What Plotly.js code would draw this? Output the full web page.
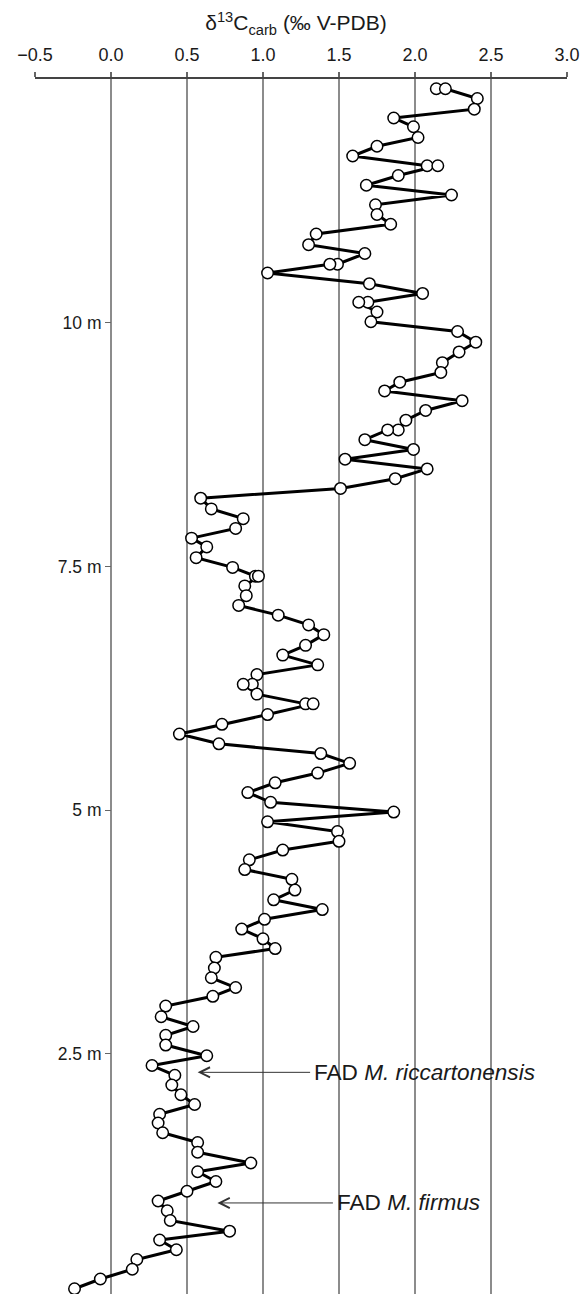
<!DOCTYPE html>
<html>
<head>
<meta charset="utf-8">
<script src="https://cdn.plot.ly/plotly-3.0.1.min.js"></script>
<style>
  html, body { margin: 0; padding: 0; background: #fff; }
  #chart { width: 582px; height: 1294px; }
</style>
</head>
<body>
<div id="chart"></div>
<script>
// Stratigraphic height (m) of each sample, top of section first
const depth_m = [
  12.40, 12.40, 12.30, 12.19, 12.10, 12.01, 11.90, 11.81, 11.71, 11.61,
  11.61, 11.51, 11.41, 11.31, 11.21, 11.11, 11.01, 10.91, 10.80, 10.71,
  10.60, 10.60, 10.51, 10.40, 10.30, 10.21, 10.21, 10.11, 10.01, 9.91,
  9.80, 9.70, 9.59, 9.49, 9.39, 9.30, 9.20, 9.10, 9.00, 8.90,
  8.90, 8.80, 8.70, 8.60, 8.50, 8.40, 8.30, 8.20, 8.09, 7.99,
  7.89, 7.79, 7.70, 7.59, 7.49, 7.40, 7.40, 7.30, 7.20, 7.10,
  7.00, 6.90, 6.80, 6.69, 6.59, 6.49, 6.39, 6.29, 6.29, 6.19,
  6.09, 6.09, 5.98, 5.88, 5.78, 5.68, 5.58, 5.48, 5.38, 5.28,
  5.18, 5.08, 4.98, 4.88, 4.78, 4.68, 4.59, 4.49, 4.39, 4.29,
  4.18, 4.08, 3.98, 3.88, 3.78, 3.68, 3.58, 3.49, 3.38, 3.28,
  3.18, 3.09, 2.99, 2.88, 2.78, 2.69, 2.59, 2.48, 2.38, 2.28,
  2.18, 2.08, 1.98, 1.88, 1.79, 1.69, 1.59, 1.49, 1.38, 1.29,
  1.19, 1.09, 0.99, 0.89, 0.79, 0.68, 0.59, 0.49, 0.39, 0.29,
  0.19, 0.09
];

// δ13C carb values (‰ V-PDB)
const d13C = [
  2.14, 2.20, 2.41, 2.39, 1.86, 1.99, 2.02, 1.75, 1.59, 2.08,
  2.15, 1.89, 1.68, 2.24, 1.74, 1.75, 1.84, 1.35, 1.30, 1.67,
  1.49, 1.44, 1.03, 1.70, 2.05, 1.69, 1.63, 1.75, 1.71, 2.28,
  2.40, 2.29, 2.18, 2.17, 1.90, 1.80, 2.31, 2.07, 1.94, 1.89,
  1.82, 1.67, 1.99, 1.54, 2.08, 1.87, 1.51, 0.59, 0.66, 0.87,
  0.82, 0.53, 0.63, 0.56, 0.80, 0.95, 0.97, 0.88, 0.89, 0.84,
  1.10, 1.30, 1.40, 1.28, 1.13, 1.36, 0.96, 0.93, 0.87, 0.96,
  1.28, 1.33, 1.03, 0.73, 0.45, 0.71, 1.38, 1.57, 1.36, 1.08,
  0.90, 1.05, 1.86, 1.03, 1.49, 1.50, 1.13, 0.91, 0.88, 1.19,
  1.21, 1.07, 1.39, 1.01, 0.86, 1.00, 1.08, 0.69, 0.68, 0.66,
  0.82, 0.67, 0.36, 0.33, 0.54, 0.36, 0.36, 0.63, 0.27, 0.42,
  0.40, 0.46, 0.55, 0.32, 0.31, 0.34, 0.57, 0.57, 0.92, 0.57,
  0.69, 0.50, 0.31, 0.37, 0.39, 0.78, 0.32, 0.43, 0.17, 0.14,
  -0.07, -0.24
];

const depthTickVals = [2.5, 5, 7.5, 10];
const depthTickText = ['2.5 m', '5 m', '7.5 m', '10 m'];

// Biostratigraphic markers: label, height, arrow tip value, label value
const fadLabels = ['FAD <i>M. riccartonensis</i>', 'FAD <i>M. firmus</i>'];
const fadHeights = [2.31, 0.97];
const fadTipX = [0.57, 0.70];
const fadTextX = [1.31, 1.46];

const FONT = 'Liberation Sans, Arial, Helvetica, sans-serif';

const trace = {
  type: 'scatter',
  mode: 'lines+markers',
  x: d13C,
  y: depth_m,
  line: { color: '#000', width: 3 },
  marker: { size: 11.5, color: '#fff', line: { color: '#000', width: 1.5 } },
  cliponaxis: false,
  hoverinfo: 'x+y'
};

const annotations = fadLabels.map((t, i) => ({
  text: t,
  x: fadTipX[i], y: fadHeights[i], xref: 'x', yref: 'y',
  ax: fadTextX[i], ay: fadHeights[i], axref: 'x', ayref: 'y',
  xanchor: 'left', yanchor: 'middle',
  showarrow: true, arrowhead: 5, arrowsize: 2, arrowwidth: 1,
  arrowcolor: '#333', borderpad: 3,
  font: { family: FONT, size: 22.6, color: '#1a1a1a' }
}));

const layout = {
  width: 582,
  height: 1294,
  margin: { l: 35, r: 15, t: 79, b: 0, pad: 0 },
  paper_bgcolor: '#fff',
  plot_bgcolor: '#fff',
  showlegend: false,
  font: { family: FONT, color: '#1a1a1a' },
  title: {
    text: 'δ<sup>13</sup>C<sub>carb</sub> (‰ V-PDB)',
    font: { family: FONT, size: 21, color: '#1a1a1a' },
    x: 296 / 582, xref: 'container', xanchor: 'center',
    y: 1 - 23 / 1294, yref: 'container', yanchor: 'middle'
  },
  xaxis: {
    side: 'top',
    range: [-0.5, 3.0],
    tick0: -0.5, dtick: 0.5,
    tickformat: '.1f',
    showgrid: true, gridcolor: '#8c8c8c', gridwidth: 1.3,
    zeroline: false,
    showline: true, linecolor: '#444', linewidth: 1.8,
    ticks: 'outside', ticklen: 5, tickcolor: '#666', tickwidth: 1.2,
    ticklabelstandoff: 4,
    tickfont: { family: FONT, size: 18, color: '#1a1a1a' },
    fixedrange: true
  },
  yaxis: {
    range: [0.036, 12.5],
    anchor: 'free',
    position: 0.5 / 3.5,
    showgrid: false, zeroline: false, showline: false,
    ticks: 'outside', ticklen: 6, tickcolor: '#666', tickwidth: 1.2,
    tickvals: depthTickVals, ticktext: depthTickText,
    tickfont: { family: FONT, size: 17.5, color: '#1a1a1a' },
    fixedrange: true
  },
  annotations: annotations
};

Plotly.newPlot('chart', [trace], layout, { displayModeBar: false, staticPlot: true });
</script>
</body>
</html>
